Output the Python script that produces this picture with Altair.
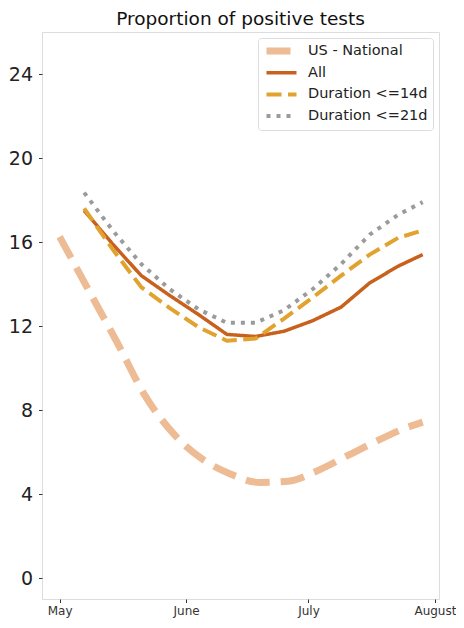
import altair as alt
import pandas as pd

series_order = ["US - National", "All", "Duration <=14d", "Duration <=21d"]

us_dates = ["2020-05-01", "2020-05-08", "2020-05-15", "2020-05-22", "2020-05-29",
            "2020-06-05", "2020-06-12", "2020-06-19", "2020-06-26", "2020-07-03",
            "2020-07-10", "2020-07-17", "2020-07-24", "2020-07-29"]
us_national = [16.25, 13.74, 11.25, 8.66, 6.85, 5.66, 4.94, 4.55, 4.61, 5.09, 5.77, 6.45, 7.08, 7.42]

dates = ["2020-05-07", "2020-05-14", "2020-05-21", "2020-05-28", "2020-06-04",
         "2020-06-11", "2020-06-18", "2020-06-25", "2020-07-02", "2020-07-09",
         "2020-07-16", "2020-07-23", "2020-07-29"]
all_tests = [17.5, 15.9, 14.4, 13.45, 12.55, 11.6, 11.5, 11.75, 12.25, 12.9, 14.05, 14.85, 15.4]
dur_14 = [17.6, 15.65, 13.85, 12.85, 11.95, 11.3, 11.4, 12.35, 13.35, 14.4, 15.4, 16.2, 16.55]
dur_21 = [18.35, 16.55, 14.95, 13.75, 12.8, 12.15, 12.15, 12.75, 13.75, 14.95, 16.35, 17.3, 17.9]

y_ticks = [0, 4, 8, 12, 16, 20, 24]

colors = ["#EDBB94", "#C8601E", "#E2A22E", "#9B9B9B"]
dashes = [[24, 11], [1, 0], [15, 6.5], [4, 6]]
widths = [7, 3.5, 4, 4]

frames = [pd.DataFrame({"date": us_dates, "value": us_national, "series": "US - National"})]
for name, vals in [("All", all_tests), ("Duration <=14d", dur_14), ("Duration <=21d", dur_21)]:
    frames.append(pd.DataFrame({"date": dates, "value": vals, "series": name}))
df = pd.concat(frames, ignore_index=True)

month_ticks = [alt.DateTime(year=2020, month=m, date=1, utc=True) for m in [5, 6, 7, 8]]

x_enc = alt.X(
    "date:T",
    scale=alt.Scale(type="utc",
                    domain=[alt.DateTime(year=2020, month=4, date=26, hours=16, utc=True),
                            alt.DateTime(year=2020, month=8, date=2, utc=True)]),
    axis=alt.Axis(values=month_ticks, format="%B", title=None, grid=False,
                  labelFontSize=12, labelColor="#333", tickSize=3.5, labelPadding=3,
                  tickColor="#333", domain=False, labelFont="DejaVu Sans"),
)
y_enc = alt.Y(
    "value:Q",
    scale=alt.Scale(domain=[-1, 26], nice=False, zero=False),
    axis=alt.Axis(values=y_ticks, title=None, grid=False, labelFontSize=19,
                  labelColor="#222", tickSize=3.5, labelPadding=6, tickColor="#333",
                  domain=False, labelFont="DejaVu Sans"),
)
legend = alt.Legend(title=None, orient="top-right", offset=6, symbolType="stroke",
                    symbolSize=900, clipHeight=16, labelFontSize=14.5,
                    labelFont="DejaVu Sans", labelColor="#222", strokeColor="#dddddd",
                    fillColor="white", padding=5, cornerRadius=3, rowPadding=5.7,
                    labelOffset=8, labelLimit=300)

color_enc = alt.Color("series:N", scale=alt.Scale(domain=series_order, range=colors), legend=legend)
dash_enc = alt.StrokeDash("series:N", scale=alt.Scale(domain=series_order, range=dashes), legend=legend)
width_enc = alt.StrokeWidth("series:N", scale=alt.Scale(type="ordinal", domain=series_order, range=widths), legend=legend)

base = alt.Chart(df).encode(x=x_enc, y=y_enc, color=color_enc, strokeDash=dash_enc,
                            strokeWidth=width_enc, order=alt.Order("date:T"))

us_layer = base.transform_filter(alt.datum.series == "US - National").mark_line(
    interpolate="monotone", strokeCap="butt")
other_layer = base.transform_filter(alt.datum.series != "US - National").mark_line(
    interpolate="linear", strokeCap="butt", strokeJoin="round")

chart = alt.layer(us_layer, other_layer).properties(
    width=397, height=567,
    title=alt.TitleParams("Proportion of positive tests", fontSize=18.5, font="DejaVu Sans",
                          fontWeight="normal", color="#111", offset=4, anchor="middle"),
    autosize=alt.AutoSizeParams(type="none"),
    padding={"left": 34, "top": 24, "right": 17, "bottom": 20},
).configure_view(stroke="#666", strokeWidth=1).configure(background="white")

chart.save("out.html", embed_options={"renderer": "svg", "actions": False})
